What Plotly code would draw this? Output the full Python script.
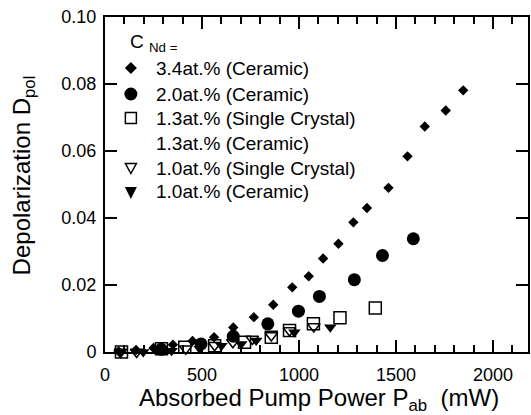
import plotly.graph_objects as go

# Absorbed pump power (mW) and depolarization for each Nd concentration
power_34_cer = [70, 160, 250, 350, 451, 562, 661, 767, 867, 965, 1050, 1124,
                1203, 1280, 1350, 1461, 1559, 1648, 1756, 1846]
dpol_34_cer = [0.0002, 0.0006, 0.0012, 0.0022, 0.0033, 0.0044, 0.0073, 0.0104,
               0.0141, 0.0193, 0.0226, 0.0279, 0.0323, 0.0387, 0.0430, 0.0490,
               0.0584, 0.0673, 0.0721, 0.0781]

power_20_cer = [75, 290, 495, 661, 839, 997, 1105, 1285, 1430, 1589]
dpol_20_cer = [-0.0004, 0.0008, 0.0024, 0.0047, 0.0084, 0.0122, 0.0166,
               0.0216, 0.0288, 0.0338]

power_13_sc = [85, 231, 291, 411, 565, 719, 857, 951, 1074, 1211, 1393]
dpol_13_sc = [0.0, -0.0005, 0.0010, 0.0014, 0.0019, 0.0029, 0.0044, 0.0064,
              0.0084, 0.0102, 0.0131]

power_10_sc = [80, 163, 416, 565, 659, 759, 857, 951, 1076]
dpol_10_sc = [0.0, 0.0, 0.0010, 0.0020, 0.0029, 0.0039, 0.0049, 0.0064, 0.0076]

power_10_cer = [80, 197, 343, 488, 600, 702, 779, 976, 1161]
dpol_10_cer = [0.0, 0.0, 0.0004, 0.0010, 0.0019, 0.0024, 0.0034, 0.0059, 0.0074]

legend_labels = ["3.4at.% (Ceramic)", "2.0at.% (Ceramic)", "1.3at.% (Single Crystal)",
                 "1.3at.% (Ceramic)", "1.0at.% (Single Crystal)", "1.0at.% (Ceramic)"]

x_ticks = [0, 500, 1000, 1500, 2000]
y_ticks = [0, 0.02, 0.04, 0.06, 0.08, 0.10]
y_ticktext = ["0", "0.02", "0.04", "0.06", "0.08", "0.10"]

FONT = "Liberation Sans, Arial, Helvetica, sans-serif"
W, H = 531, 415
ML, MR, MT, MB = 105, 1, 17, 63
PW, PH = W - ML - MR, H - MT - MB


def px_x(px):
    return (px - ML) / PW


def px_y(py):
    return (H - MB - py) / PH


fig = go.Figure()

series = [
    (power_34_cer, dpol_34_cer, dict(symbol="diamond", size=8, color="black")),
    (power_20_cer, dpol_20_cer, dict(symbol="circle", size=13, color="black")),
    (power_13_sc, dpol_13_sc, dict(symbol="square-open", size=12, color="black",
                                   line=dict(width=1.5, color="black"))),
    (power_10_sc, dpol_10_sc, dict(symbol="triangle-down-open", size=11, color="black",
                                   line=dict(width=1.5, color="black"))),
    (power_10_cer, dpol_10_cer, dict(symbol="triangle-down", size=11, color="black")),
]
for xs, ys, mk in series:
    fig.add_trace(go.Scatter(x=xs, y=ys, mode="markers", marker=mk,
                             cliponaxis=False, showlegend=False))

axis_common = dict(
    showline=True, linewidth=2, linecolor="black", mirror="ticks",
    ticks="inside", ticklen=12, tickwidth=1.5, tickcolor="black",
    showgrid=False, zeroline=False,
    tickfont=dict(family=FONT, size=18, color="black"),
)

fig.update_xaxes(range=[0, 2180], tickvals=x_ticks, ticklabelstandoff=5,
                 minor=dict(dtick=100, ticks="inside", ticklen=7, tickwidth=1.5,
                            tickcolor="black", showgrid=False),
                 **axis_common)
fig.update_yaxes(range=[0, 0.1], tickvals=y_ticks, ticktext=y_ticktext,
                 ticklabelstandoff=3, **axis_common)

annotations = [
    dict(text="Absorbed Pump Power P<sub>ab</sub> &nbsp;(mW)", x=px_x(320), y=px_y(399),
         xanchor="center", yanchor="middle", font=dict(size=24)),
    dict(text="Depolarization D<sub>pol</sub>", x=px_x(23), y=px_y(175),
         textangle=-90, xanchor="center", yanchor="middle", font=dict(size=24)),
    dict(text="C <sub>Nd =</sub>", x=px_x(128), y=px_y(43),
         xanchor="left", yanchor="middle", font=dict(size=19)),
]
row_y = [68, 94, 118, 143, 168, 192]
for label, ry in zip(legend_labels, row_y):
    annotations.append(dict(text=label, x=px_x(154), y=px_y(ry),
                            xanchor="left", yanchor="middle", font=dict(size=19)))
for a in annotations:
    a.update(xref="paper", yref="paper", showarrow=False)
    a["font"].update(family=FONT, color="black")

# Legend key symbols, drawn in pixel units around each row anchor
sym_x = px_x(131)
shape_base = dict(xref="paper", yref="paper", xsizemode="pixel", ysizemode="pixel",
                  xanchor=sym_x)
shapes = [
    dict(type="path", path="M-6,0 L0,6 L6,0 L0,-6 Z", fillcolor="black",
         line=dict(width=0), yanchor=px_y(row_y[0]), **shape_base),
    dict(type="circle", x0=-6.5, x1=6.5, y0=-6.5, y1=6.5, fillcolor="black",
         line=dict(width=0), yanchor=px_y(row_y[1]), **shape_base),
    dict(type="rect", x0=-5.5, x1=5.5, y0=-5.5, y1=5.5, fillcolor="white",
         line=dict(color="black", width=1.5), yanchor=px_y(row_y[2]), **shape_base),
    dict(type="path", path="M-5.5,4.5 L5.5,4.5 L0,-5.5 Z", fillcolor="white",
         line=dict(color="black", width=1.5), yanchor=px_y(row_y[4]), **shape_base),
    dict(type="path", path="M-6,5 L6,5 L0,-7 Z", fillcolor="black",
         line=dict(width=0), yanchor=px_y(row_y[5]), **shape_base),
]

fig.update_layout(
    width=W, height=H,
    margin=dict(l=ML, r=MR, t=MT, b=MB, pad=0),
    paper_bgcolor="white", plot_bgcolor="white",
    font=dict(family=FONT, color="black"),
    annotations=annotations, shapes=shapes, showlegend=False,
)

fig.write_html("out.html")
